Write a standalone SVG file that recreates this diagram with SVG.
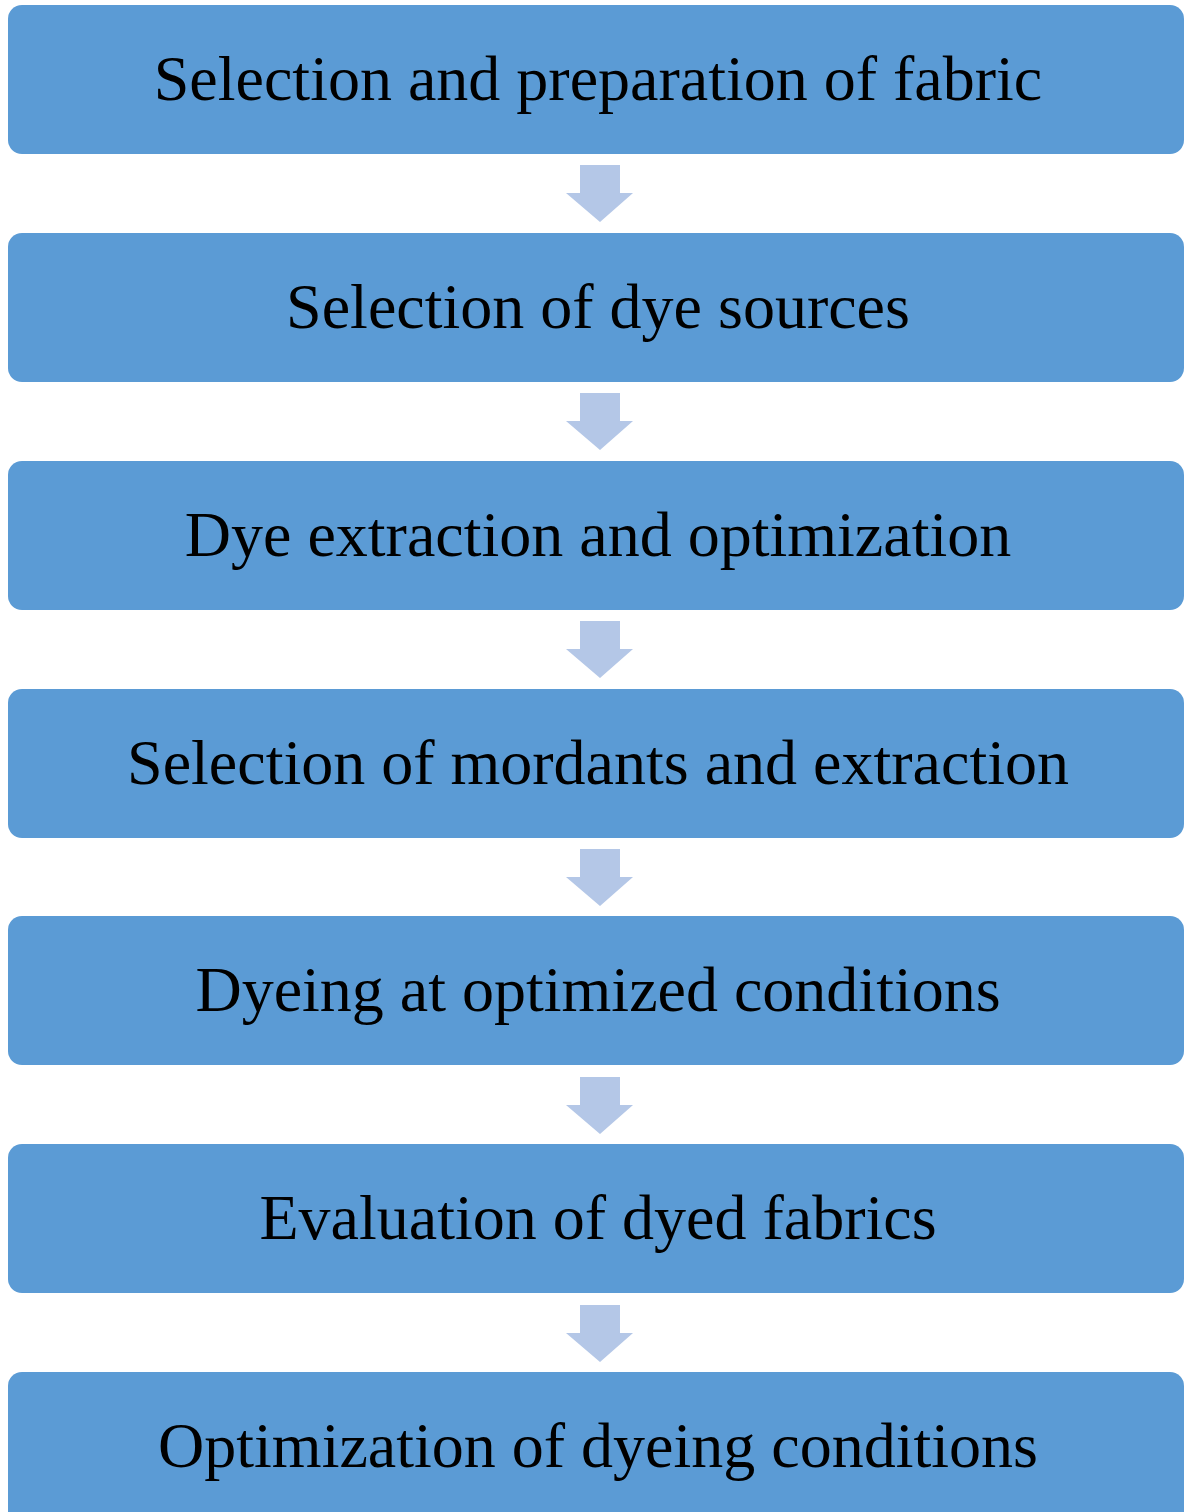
<svg xmlns="http://www.w3.org/2000/svg" width="1184" height="1512" viewBox="0 0 1184 1512">
<style>
.box{fill:#5B9BD5;}
.lbl{font-family:"Liberation Serif","Times New Roman",serif;font-size:64px;fill:#000;text-anchor:middle;}
.arr{fill:#B4C7E7;}
</style>
<rect width="1184" height="1512" fill="#fff"/>
<g id="connectors">
<polygon class="arr" points="580,165 620,165 620,193 633,193 600,222 566,193 580,193"/>
<polygon class="arr" points="580,393 620,393 620,421 633,421 600,450 566,421 580,421"/>
<polygon class="arr" points="580,621 620,621 620,649 633,649 600,678 566,649 580,649"/>
<polygon class="arr" points="580,849 620,849 620,877 633,877 600,906 566,877 580,877"/>
<polygon class="arr" points="580,1077 620,1077 620,1105 633,1105 600,1134 566,1105 580,1105"/>
<polygon class="arr" points="580,1305 620,1305 620,1333 633,1333 600,1362 566,1333 580,1333"/>
</g>
<g id="n1"><rect class="box" x="8" y="5" width="1176" height="149" rx="14"/><text class="lbl" x="598" y="100">Selection and preparation of fabric</text></g>
<g id="n2"><rect class="box" x="8" y="233" width="1176" height="149" rx="14"/><text class="lbl" x="598" y="328">Selection of dye sources</text></g>
<g id="n3"><rect class="box" x="8" y="461" width="1176" height="149" rx="14"/><text class="lbl" x="598" y="556">Dye extraction and optimization</text></g>
<g id="n4"><rect class="box" x="8" y="689" width="1176" height="149" rx="14"/><text class="lbl" x="598" y="784">Selection of mordants and extraction</text></g>
<g id="n5"><rect class="box" x="8" y="916" width="1176" height="149" rx="14"/><text class="lbl" x="598" y="1011">Dyeing at optimized conditions</text></g>
<g id="n6"><rect class="box" x="8" y="1144" width="1176" height="149" rx="14"/><text class="lbl" x="598" y="1239">Evaluation of dyed fabrics</text></g>
<g id="n7"><rect class="box" x="8" y="1372" width="1176" height="160" rx="14"/><text class="lbl" x="598" y="1467">Optimization of dyeing conditions</text></g>
</svg>
